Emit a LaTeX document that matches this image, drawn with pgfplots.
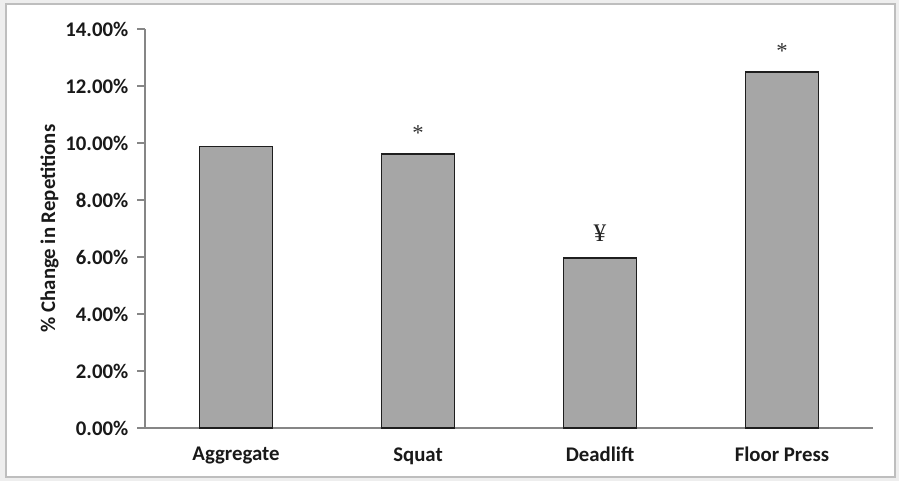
\documentclass[border=0pt]{standalone}
\usepackage{pgfplots}
\pgfplotsset{compat=1.18}
\usepackage{fontspec}
\setmainfont{Carlito}
\newfontfamily\serifsym{Liberation Serif}
\definecolor{axisgray}{RGB}{134,134,134}
\definecolor{barfill}{RGB}{166,166,166}
\definecolor{baredge}{RGB}{30,30,30}
\definecolor{framegray}{RGB}{190,190,190}
\definecolor{outside}{RGB}{238,238,238}
\begin{document}
\begin{tikzpicture}
\path[use as bounding box, fill=outside] (0pt,0pt) rectangle (674.25pt,360.75pt);
\draw[framegray, line width=1.5pt, fill=white] (4.5pt,3pt) rectangle (671.25pt,357.75pt);
\begin{axis}[
  at={(108.75pt,39.75pt)}, anchor=south west,
  scale only axis,
  width=546pt, height=299.25pt,
  xmin=-0.5, xmax=3.5, ymin=0, ymax=14,
  axis x line*=bottom, axis y line*=left,
  axis line style={axisgray, line width=0.9pt},
  every tick/.style={axisgray, line width=0.9pt},
  tick align=outside,
  xtick={0,1,2,3},
  xticklabels={Aggregate,Squat,Deadlift,Floor Press},
  major x tick style={draw=none},
  extra x ticks={-0.5,0.5,1.5,2.5,3.5},
  extra x tick labels={},
  extra x tick style={major tick length=6pt, tick style={axisgray, line width=0.9pt}},
  ytick={0,2,4,6,8,10,12,14},
  yticklabels={0.00\%,2.00\%,4.00\%,6.00\%,8.00\%,10.00\%,12.00\%,14.00\%},
  major tick length=6pt,
  tick label style={font=\bfseries\fontsize{15.6}{18}\selectfont, text=black!90},
  xticklabel style={yshift=-5pt},
  yticklabel style={xshift=-3pt},
  ylabel={\% Change in Repetitions},
  ylabel style={font=\bfseries\fontsize{15.6}{18}\selectfont, text=black!90, at={(axis description cs:-0.131,0.5)}, anchor=center},
  clip=false,
]
\addplot[ybar, bar width=0.4, fill=barfill, draw=baredge, line width=1.2pt]
  coordinates {(0,9.88) (1,9.62) (2,5.96) (3,12.50)};
\addplot[draw=none, mark=none, nodes near coords, point meta=explicit symbolic,
  nodes near coords style={font=\serifsym\fontsize{17}{20}\selectfont, text=black!80, anchor=center, yshift=15.5pt}]
  table[meta=m] {
x y m
1 9.62 *
3 12.50 *
};
\addplot[draw=none, mark=none, nodes near coords, point meta=explicit symbolic,
  nodes near coords style={font=\serifsym\fontsize{19}{22}\selectfont, text=black!85, anchor=center, yshift=19pt}]
  table[meta=m] {
x y m
2 5.96 ¥
};
\end{axis}
\end{tikzpicture}
\end{document}
